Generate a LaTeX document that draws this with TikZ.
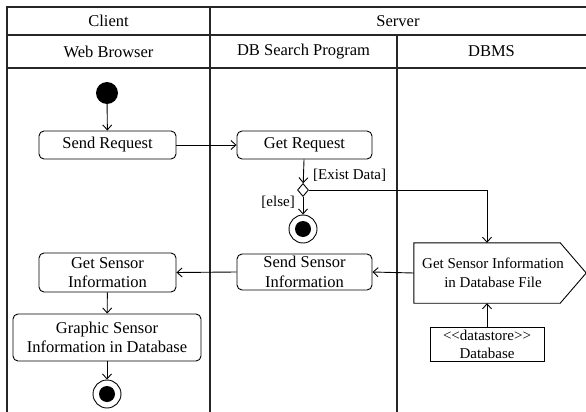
\documentclass[tikz,border=0pt]{standalone}
\usepackage{fontspec}
\setmainfont{Liberation Serif}
\usetikzlibrary{arrows.meta,shapes.geometric}
\begin{document}
\begin{tikzpicture}[x=1pt,y=-1pt,
  font=\fontsize{16.5}{19.5}\selectfont,
  small/.style={font=\fontsize{15}{18.5}\selectfont},
  tbl/.style={line width=1.3pt,draw=black!85},
  actbox/.style={draw,line width=0.9pt,rounded corners=5pt,align=center,inner sep=1pt},
  arr/.style={line width=0.9pt,-{Straight Barb[length=5pt,width=9pt]}},
  lbl/.style={inner sep=1pt,font=\fontsize{15}{18}\selectfont},
  startdot/.style={circle,fill=black,minimum size=22pt,inner sep=0pt},
  enddot/.style={circle,draw,line width=0.9pt,fill=white,minimum size=28pt,inner sep=0pt,
    path picture={\fill[black] (path picture bounding box.center) circle (8pt);}}
]
\useasboundingbox (0,0) rectangle (586,412);
% swimlane table
\draw[tbl] (586,7) -- (7,7) -- (7,412);
\draw[tbl] (7,35) -- (586,35);
\draw[tbl] (7,68) -- (586,68);
\draw[tbl] (210,7) -- (210,412);
\draw[tbl] (397,35) -- (397,412);
\node (hclient) at (108.5,21) {Client};
\node (hserver) at (398,21) {Server};
\node (hweb) at (108.5,51.5) {Web Browser};
\node (hdbs) at (303.5,51.5) {DB Search Program};
\node (hdbms) at (491.5,51.5) {DBMS};
% nodes
\node[startdot] (start) at (107,93) {};
\node[actbox,minimum width=137pt,minimum height=28pt] (sendreq) at (107.5,145) {Send Request};
\node[actbox,minimum width=135pt,minimum height=28pt] (getreq) at (304.5,145) {Get Request};
\node[diamond,draw,line width=0.9pt,fill=white,minimum width=11pt,minimum height=13pt,inner sep=0pt] (dec) at (303,190) {};
\node[enddot] (end1) at (303,229) {};
\node[lbl,anchor=west] (lexist) at (312,175) {[Exist Data]};
\node[lbl,anchor=east] (lelse) at (296,202) {[else]};
\node[actbox,minimum width=137pt,minimum height=39pt] (getsens) at (107.5,272.5) {Get Sensor\\Information};
\node[actbox,minimum width=135pt,minimum height=36pt] (sendsens) at (304.5,272) {Send Sensor\\Information};
\node[actbox,minimum width=188pt,minimum height=47pt] (graphic) at (107,337.5) {Graphic Sensor\\Information in Database};
\node[enddot] (end2) at (107,394) {};
\node[rectangle,minimum width=146pt,minimum height=60pt,inner sep=0pt] (hex) at (487,273) {};
\draw[line width=0.9pt] (hex.north west) -- (hex.north east) -- ([xshift=26pt]hex.east) -- (hex.south east) -- (hex.south west) -- cycle;
\node[small,align=center] (hextxt) at (493,273) {Get Sensor Information\\in Database File};
\node[draw,line width=0.9pt,align=center,minimum width=114pt,minimum height=34pt,inner sep=0pt,font=\fontsize{15}{18}\selectfont] (ds) at (487,344) {<{}<datastore>{}>\\Database};
% connectors
\draw[arr] (start) -- (sendreq);
\draw[arr] (sendreq) -- (getreq);
\draw[arr] (getreq) -- (dec);
\draw[arr] (dec) -- (end1);
\draw[arr] (dec.east) -| (hex.north);
\draw[arr] (ds) -- (hex.south);
\draw[arr] (hex.west) -- (sendsens.east);
\draw[arr] (sendsens.west) -- (getsens.east);
\draw[arr] (getsens) -- (graphic);
\draw[arr] (graphic) -- (end2);
\end{tikzpicture}
\end{document}
